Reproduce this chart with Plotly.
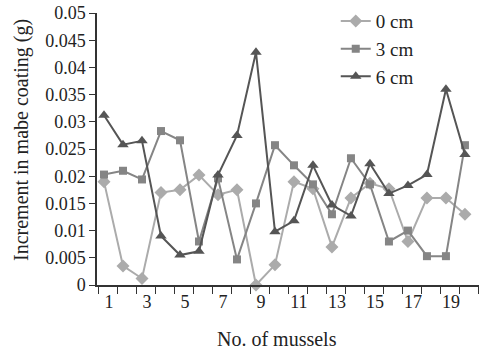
import plotly.graph_objects as go

mussels = list(range(1, 21))
cm0 = [0.019, 0.0035, 0.0012, 0.017, 0.0175, 0.0202, 0.0166, 0.0175, 0.0, 0.0037,
       0.019, 0.0177, 0.007, 0.016, 0.0187, 0.0177, 0.008, 0.016, 0.016, 0.013]
cm3 = [0.0203, 0.021, 0.0194, 0.0283, 0.0266, 0.008, 0.0196, 0.0047, 0.015, 0.0257,
       0.022, 0.0185, 0.013, 0.0233, 0.0185, 0.008, 0.010, 0.0053, 0.0053, 0.0257]
cm6 = [0.0312, 0.0258, 0.0265, 0.009, 0.0055, 0.0062, 0.0202, 0.0275, 0.0428, 0.0098,
       0.0118, 0.022, 0.0147, 0.0127, 0.0223, 0.0168, 0.0183, 0.0203, 0.036, 0.024]
series_names = ["0 cm", "3 cm", "6 cm"]
x_tick_labels = [str(i) for i in range(1, 20, 2)]
y_tick_vals = [i * 0.005 for i in range(11)]
y_tick_text = ["0", "0.005", "0.01", "0.015", "0.02", "0.025", "0.03", "0.035", "0.04", "0.045", "0.05"]

FONT = "Liberation Serif"
styles = [
    dict(color="#ababab", symbol="diamond", size=10),
    dict(color="#858585", symbol="square", size=8),
    dict(color="#555555", symbol="triangle-up", size=10),
]

fig = go.Figure()
for name, ys, st in zip(series_names, [cm0, cm3, cm6], styles):
    fig.add_trace(go.Scatter(
        x=mussels, y=ys, name=name, mode="lines+markers",
        line=dict(color=st["color"], width=2),
        marker=dict(color=st["color"], symbol=st["symbol"], size=st["size"]),
        cliponaxis=False,
    ))

label_shift = 0.26
fig.update_layout(
    width=479, height=350,
    margin=dict(l=97, r=0, t=13, b=65),
    paper_bgcolor="white", plot_bgcolor="white",
    font=dict(family=FONT, size=18, color="#222222"),
    showlegend=True,
    legend=dict(x=0.625, y=1.04, xanchor="left", yanchor="top",
                font=dict(family=FONT, size=19, color="#222222"),
                bgcolor="rgba(0,0,0,0)", tracegroupgap=0),
    xaxis=dict(
        range=[0.632, 20.74], automargin=False,
        tickmode="array",
        tickvals=[int(t) + label_shift for t in x_tick_labels],
        ticktext=x_tick_labels,
        ticks="", showgrid=False, zeroline=False,
        showline=True, linecolor="#333333", linewidth=1.5,
        tickfont=dict(family=FONT, size=18, color="#222222"),
        minor=dict(tickmode="linear", tick0=0.7, dtick=1, ticks="outside",
                   ticklen=7, tickwidth=1.2, tickcolor="#333333", showgrid=False),
    ),
    yaxis=dict(
        range=[0, 0.05], automargin=False,
        tickmode="array", tickvals=y_tick_vals, ticktext=y_tick_text,
        ticks="outside", ticklen=6, tickwidth=1.2, tickcolor="#333333",
        showgrid=False, zeroline=False,
        showline=True, linecolor="#333333", linewidth=1.5,
        tickfont=dict(family=FONT, size=18, color="#222222"),
    ),
    annotations=[
        dict(text="No. of mussels", xref="paper", yref="paper",
             x=(277 - 97) / 382, y=-(339 - 285) / 272, xanchor="center", yanchor="middle",
             showarrow=False, font=dict(family=FONT, size=20, color="#222222")),
        dict(text="Increment in mabe coating (g)", xref="paper", yref="paper",
             x=-(97 - 21) / 382, y=(285 - 140) / 272, xanchor="center", yanchor="middle",
             textangle=-90, showarrow=False,
             font=dict(family=FONT, size=20, color="#222222")),
    ],
)

fig.write_html("out.html", config={"displayModeBar": False},
               post_script="document.body.style.margin='0';document.body.style.padding='0';")
